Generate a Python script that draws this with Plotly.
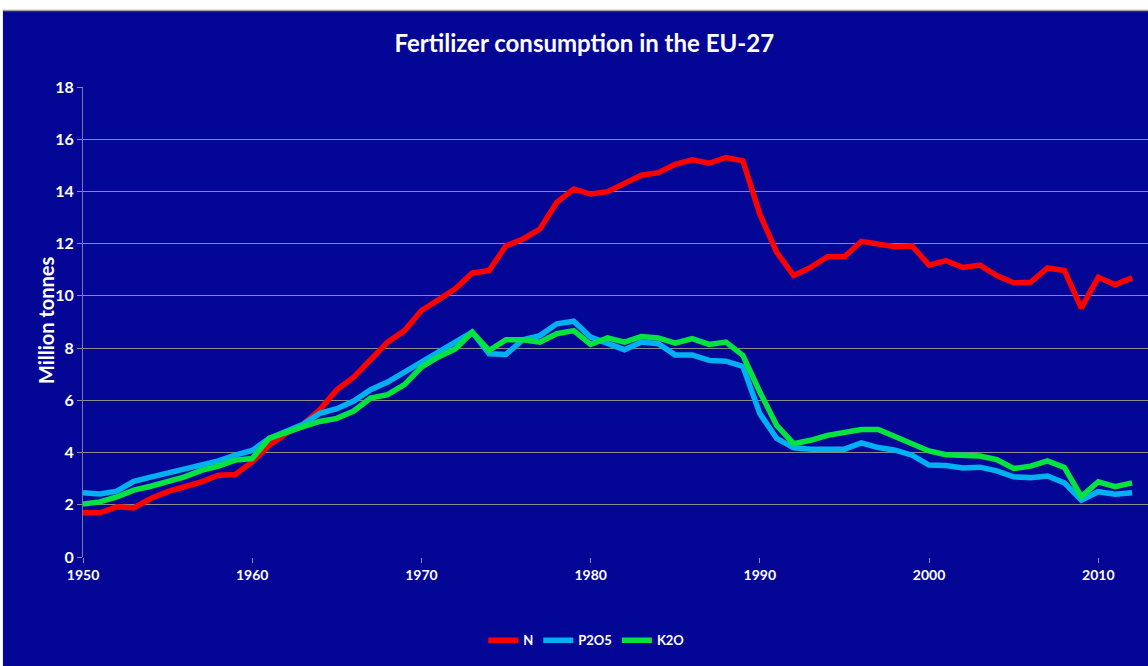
import plotly.graph_objects as go

years = list(range(1950, 2013))

n_values = [1.69, 1.69, 1.92, 1.88, 2.24, 2.50, 2.69, 2.88, 3.13, 3.16,
            3.64, 4.28, 4.72, 5.08, 5.65, 6.40, 6.89, 7.59, 8.23, 8.67,
            9.44, 9.85, 10.27, 10.87, 10.97, 11.92, 12.18, 12.56, 13.58, 14.09,
            13.90, 13.99, 14.28, 14.62, 14.72, 15.04, 15.21, 15.08, 15.30, 15.17,
            13.13, 11.67, 10.78, 11.09, 11.50, 11.50, 12.09, 11.96, 11.88, 11.91,
            11.18, 11.35, 11.09, 11.18, 10.78, 10.50, 10.52, 11.07, 10.97, 9.54,
            10.71, 10.43, 10.69]

p2o5_values = [2.46, 2.41, 2.52, 2.90, 3.06, 3.21, 3.39, 3.52, 3.68, 3.90,
               4.08, 4.54, 4.79, 5.08, 5.50, 5.68, 5.97, 6.41, 6.70, 7.08,
               7.46, 7.85, 8.19, 8.61, 7.78, 7.76, 8.32, 8.48, 8.93, 9.03,
               8.42, 8.19, 7.94, 8.23, 8.17, 7.74, 7.74, 7.53, 7.50, 7.30,
               5.49, 4.54, 4.18, 4.13, 4.15, 4.13, 4.37, 4.19, 4.09, 3.90,
               3.52, 3.50, 3.41, 3.44, 3.30, 3.07, 3.04, 3.10, 2.84, 2.18,
               2.50, 2.40, 2.46]

k2o_values = [2.03, 2.11, 2.30, 2.56, 2.71, 2.88, 3.07, 3.32, 3.48, 3.71,
              3.77, 4.54, 4.79, 4.99, 5.19, 5.31, 5.59, 6.09, 6.22, 6.60,
              7.27, 7.66, 7.97, 8.61, 7.91, 8.32, 8.32, 8.23, 8.55, 8.67,
              8.14, 8.39, 8.23, 8.44, 8.39, 8.19, 8.36, 8.14, 8.23, 7.72,
              6.32, 5.04, 4.34, 4.47, 4.66, 4.75, 4.88, 4.88, 4.60, 4.37,
              4.06, 3.92, 3.87, 3.87, 3.73, 3.39, 3.48, 3.68, 3.43, 2.31,
              2.88, 2.69, 2.84]

series_names = ['N', 'P2O5', 'K2O']
series_colors = ['#FF0000', '#00B0F0', '#05E33E']
y_ticks = list(range(0, 19, 2))
x_ticks = list(range(1950, 2011, 10))

bg = '#040696'
font_family = 'Lato, Open Sans, sans-serif'

fig = go.Figure()
for name, vals, col in zip(series_names, [n_values, p2o5_values, k2o_values], series_colors):
    fig.add_trace(go.Scatter(x=years, y=vals, mode='lines', name=name,
                             line=dict(color=col, width=5.5)))

fig.update_layout(
    width=1148, height=666,
    paper_bgcolor=bg, plot_bgcolor=bg,
    margin=dict(l=83, r=0, t=87, b=109),
    font=dict(family=font_family, color='white'),
    title=dict(text='Fertilizer consumption in the EU-27', x=0.509, xanchor='center',
               y=0.935, yanchor='middle',
               font=dict(size=24, color='white', family=font_family, weight='bold')),
    xaxis=dict(range=[1950, 2012.94], tickvals=x_ticks, showgrid=False, zeroline=False,
               ticks='outside', ticklen=5, tickcolor='#8C8CA8', showline=False,
               tickfont=dict(size=14, color='white', weight='bold')),
    yaxis=dict(range=[0, 18], tickvals=y_ticks, showgrid=True, gridcolor='#8C8C8C',
               gridwidth=1, zeroline=False, showline=True, linecolor='#7878A8',
               linewidth=1, ticks='outside', ticklen=5, tickcolor='#8C8CA8',
               tickfont=dict(size=16, color='white', weight='bold')),
    legend=dict(orientation='h', x=0.473, xanchor='center', y=-0.177, yanchor='middle',
                font=dict(size=13, color='white', weight='bold'),
                bgcolor='rgba(0,0,0,0)', itemwidth=30, tracegroupgap=0),
    annotations=[dict(text='Million tonnes', textangle=-90, x=-0.0479, y=0.504,
                      xref='paper', yref='paper', showarrow=False,
                      font=dict(size=20, color='white', weight='bold'))],
    shapes=[
        dict(type='rect', xref='paper', yref='paper', x0=-0.1, x1=1.05, y0=1.164, y1=1.2,
             fillcolor='white', line=dict(width=0)),
        dict(type='line', xref='paper', yref='paper', x0=-0.075, x1=1.05, y0=1.163, y1=1.163,
             line=dict(color='#A0A0A0', width=1.5)),
        dict(type='rect', xref='paper', yref='paper', x0=-0.1, x1=-0.0752, y0=-0.3, y1=1.2,
             fillcolor='white', line=dict(width=0)),
    ],
    showlegend=True,
)

fig.write_html("out.html", config={'displayModeBar': False},
               post_script="document.body.style.margin='0';")
